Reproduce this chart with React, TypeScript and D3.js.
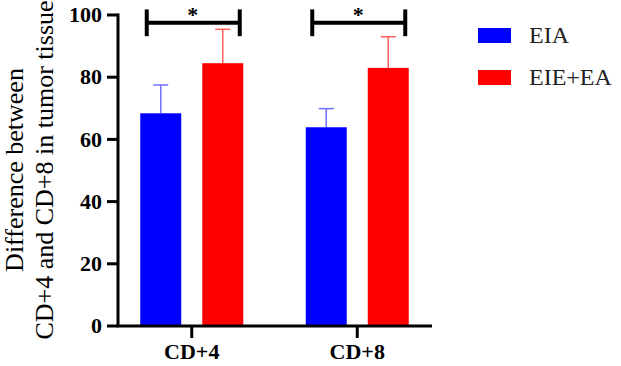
import React from 'react';
import * as d3 from 'd3';

const groups = ['CD+4', 'CD+8'];
const series = ['EIA', 'EIE+EA'];
const colors = ['#0000ff', '#ff0000'];
const errColors = ['#6f6fff', '#ff5f5f'];
// mean and upper error per group, one array per series
const means = [
  [68.4, 63.9],
  [84.5, 83.0],
];
const errs = [
  [9.1, 6.0],
  [10.9, 10.0],
];
const yTicks = [0, 20, 40, 60, 80, 100];
const sigLabels = ['*', '*'];

const width = 621;
const height = 366;
const serif = 'Liberation Serif';

export default function App() {
  const y = d3.scaleLinear().domain([0, 100]).range([326, 15]);
  const x0 = d3.scaleBand().domain(groups).range([109, 440]).paddingInner(0).paddingOuter(0);
  const x1 = d3.scaleBand().domain(series).range([-51.5, 51.5]).paddingInner(0.339).paddingOuter(0);
  const axisX = 118;
  const bw = x1.bandwidth();

  return (
    <svg width={width} height={height} style={{ position: 'absolute', left: 0, top: 0 }}>
      <rect width={width} height={height} fill="#fff" />

      {/* bars */}
      {groups.map((g, gi) =>
        series.map((s, si) => {
          const cx = (x0(g) ?? 0) + x0.bandwidth() / 2;
          const left = cx + (x1(s) ?? 0);
          const mid = left + bw / 2;
          const top = y(means[si][gi]);
          const errTop = y(means[si][gi] + errs[si][gi]);
          return (
            <g key={g + s}>
              <line x1={mid} x2={mid} y1={top} y2={errTop} stroke={errColors[si]} strokeWidth={1.5} />
              <line x1={mid - 7.5} x2={mid + 7.5} y1={errTop} y2={errTop} stroke={errColors[si]} strokeWidth={1.5} />
              <rect x={left} y={top} width={bw} height={y(0) - top} fill={colors[si]} />
            </g>
          );
        })
      )}

      {/* significance brackets */}
      {groups.map((g, gi) => {
        const cx = (x0(g) ?? 0) + x0.bandwidth() / 2;
        const a = cx - 45;
        const b = cx + 48;
        const ly = y(97.5);
        return (
          <g key={'sig' + g} stroke="#000" strokeWidth={4}>
            <line x1={a} x2={b} y1={ly} y2={ly} />
            <line x1={a} x2={a} y1={y(101.8)} y2={y(93.2)} />
            <line x1={b} x2={b} y1={y(101.8)} y2={y(93.2)} />
            <text x={cx + 1} y={y(97.5) - 1} textAnchor="middle" stroke="none" fill="#000"
              fontFamily={serif} fontWeight="bold" fontSize={22}>{sigLabels[gi]}</text>
          </g>
        );
      })}

      {/* y axis */}
      <line x1={axisX} x2={axisX} y1={y(100) - 1.5} y2={y(0)} stroke="#000" strokeWidth={3} />
      {yTicks.map(t => (
        <g key={t}>
          <line x1={axisX - 11} x2={axisX} y1={y(t)} y2={y(t)} stroke="#000" strokeWidth={3} />
          <text x={102} y={y(t)} dy="0.33em" textAnchor="end" fontFamily={serif} fontWeight="bold" fontSize={22}>{t}</text>
        </g>
      ))}

      {/* x axis */}
      <line x1={axisX - 1.5} x2={432} y1={y(0)} y2={y(0)} stroke="#000" strokeWidth={3} />
      {groups.map(g => {
        const cx = (x0(g) ?? 0) + x0.bandwidth() / 2;
        return (
          <g key={'xt' + g}>
            <line x1={cx} x2={cx} y1={y(0)} y2={338} stroke="#000" strokeWidth={3} />
            <text x={cx} y={359} textAnchor="middle" fontFamily={serif} fontWeight="bold" fontSize={22}>{g}</text>
          </g>
        );
      })}

      {/* y title */}
      <text transform="translate(23,170) rotate(-90)" textAnchor="middle" fontFamily={serif} fontSize={26}>
        Difference between
      </text>
      <text transform="translate(53,170) rotate(-90)" textAnchor="middle" fontFamily={serif} fontSize={26}>
        CD+4 and CD+8 in tumor tissue
      </text>

      {/* legend */}
      {series.map((s, i) => (
        <g key={'lg' + s} transform={`translate(478,${28 + i * 42})`}>
          <rect width={33} height={15} fill={colors[i]} />
          <text x={51} y={15} fontFamily={serif} fontSize={24} fill="#222">{s}</text>
        </g>
      ))}
    </svg>
  );
}
